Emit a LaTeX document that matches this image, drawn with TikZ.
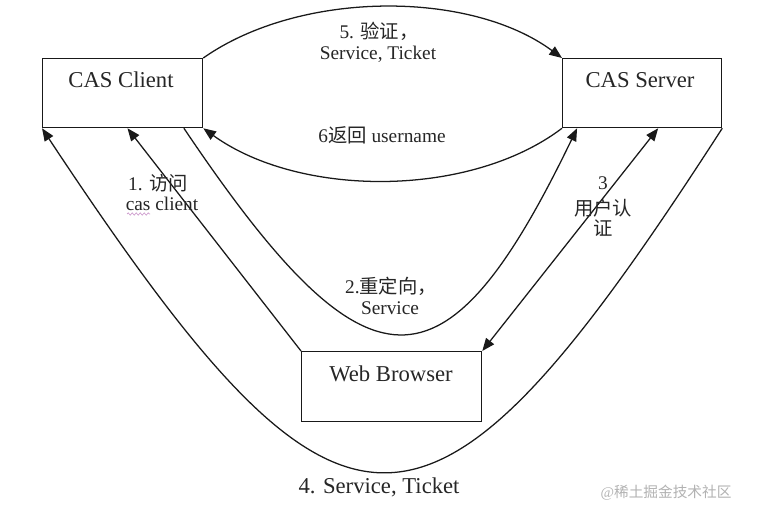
\documentclass[tikz,border=0pt]{standalone}
\usepackage{fontspec}
\setmainfont{Liberation Serif}
\newfontfamily\cjk{Noto Sans CJK SC}
\usetikzlibrary{arrows.meta,calc,decorations.pathmorphing}
\begin{document}
\begin{tikzpicture}[x=0.75pt,y=-0.75pt,
  box/.style={draw=black!90, line width=0.95pt, inner sep=0pt, anchor=north west},
  big/.style={font=\fontsize{17}{20}\selectfont, inner sep=0pt, text=black!85},
  lbl/.style={font=\fontsize{14.5}{17}\selectfont, inner sep=0pt, text=black!85},
  arr/.style={draw=black!90, line width=0.95pt, -{Triangle[length=9.5pt,width=7.5pt]}},
  darr/.style={draw=black!90, line width=0.95pt, {Triangle[length=9.5pt,width=7.5pt]}-{Triangle[length=9.5pt,width=7.5pt]}},
]
\useasboundingbox[fill=white] (0,0) rectangle (780,520);
% boxes
\node[box, minimum width=120pt, minimum height=51.75pt] (client) at (42,58) {};
\node[box, minimum width=119.25pt, minimum height=51.75pt] (server) at (562,58) {};
\node[box, minimum width=135pt, minimum height=52.5pt] (browser) at (301,351) {};
\node[big] (clientlbl) at (121,80) {CAS Client};
\node[big] (serverlbl) at (640,80) {CAS Server};
\node[big] (browserlbl) at (391,374) {Web Browser};
% connection points
\coordinate (c1) at ($(client.south west)!0.53!(client.south east)$);
\coordinate (c2) at ($(client.south west)!0.88!(client.south east)$);
\coordinate (s2) at ($(server.south west)!0.094!(server.south east)$);
\coordinate (s3) at ($(server.south west)!0.6!(server.south east)$);
% 5
\draw[arr] (client.north east) .. controls (300,-10) and (470,-10) .. (server.north west);
% 6
\draw[arr] (server.south west) .. controls (470,198) and (300,198) .. (client.south east);
% 1
\draw[arr] (browser.north west) -- (c1);
% 2
\draw[arr] (c2) .. controls (368,402) and (445,402) .. (s2);
% 3
\draw[darr] (browser.north east) -- (s3);
% 4
\draw[arr] (server.south east) .. controls (427,586) and (345,586) .. (client.south west);
% labels
\node[lbl] (l5a) at (379,31) {5. {\cjk 验证，}};
\node[lbl] (l5b) at (378,54) {Service, Ticket};
\node[lbl] (l6) at (382,135) {6{\cjk 返回} username};
\node[lbl] (l1a) at (158,183) {1. {\cjk 访问}};
\node[lbl] (l1b) at (162,204) {cas client};
\draw[violet!40, line width=0.5pt, decorate, decoration={snake, amplitude=0.8pt, segment length=3pt}] (127,214) -- (150,214);
\node[lbl] (l3a) at (603,183) {3};
\node[lbl] (l3b) at (603,208) {\cjk 用户认};
\node[lbl] (l3c) at (603,228) {\cjk 证};
\node[lbl] (l2a) at (391,286) {2.{\cjk 重定向，}};
\node[lbl] (l2b) at (390,308) {Service};
\node[big] (l4) at (379,487) {4. Service, Ticket};
\node[font=\fontsize{11}{13}\selectfont, text=black!30, inner sep=0pt] (wm) at (666,493) {@{\cjk 稀土掘金技术社区}};
\end{tikzpicture}
\end{document}
